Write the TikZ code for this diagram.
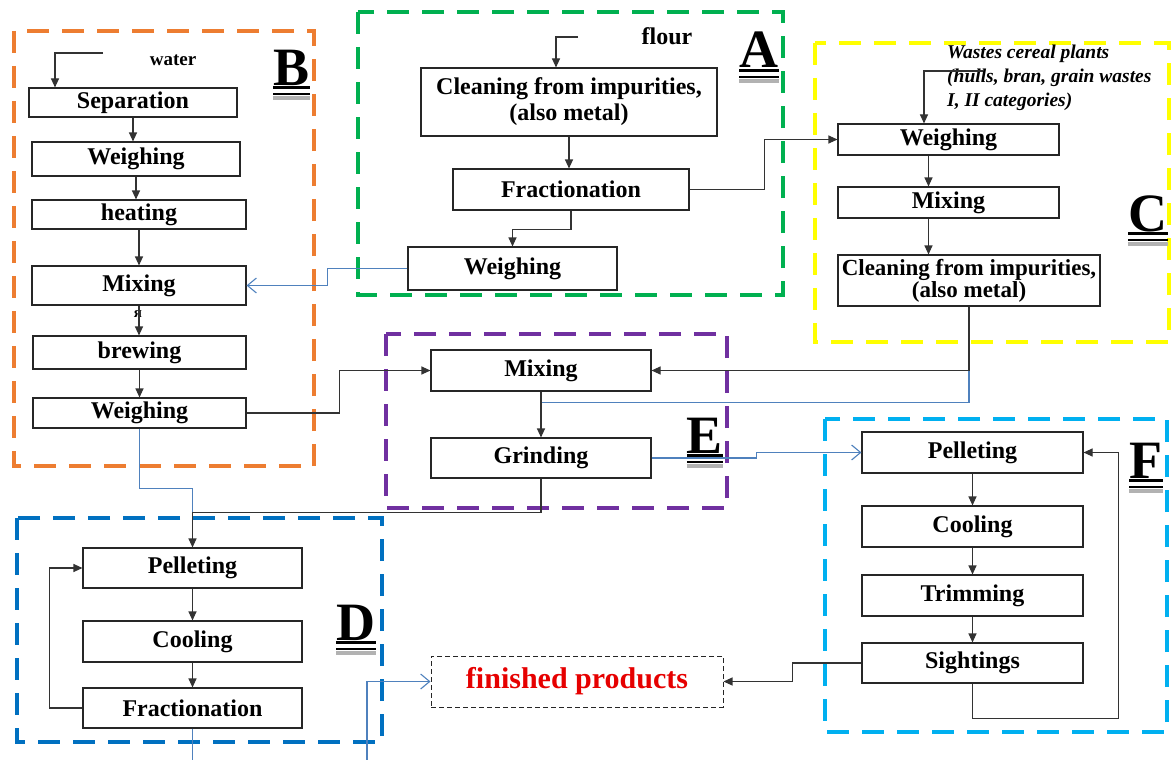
\documentclass[tikz,border=0pt]{standalone}
\usepackage{fontspec}
\setmainfont{Liberation Serif}
\usepackage{xcolor}
\definecolor{orangeB}{RGB}{237,125,49}
\definecolor{greenA}{RGB}{0,176,80}
\definecolor{yellowC}{RGB}{255,255,0}
\definecolor{blueD}{RGB}{0,112,192}
\definecolor{purpleE}{RGB}{112,48,160}
\definecolor{cyanF}{RGB}{0,176,240}
\definecolor{linkblue}{RGB}{79,129,189}
\definecolor{finred}{RGB}{230,0,0}
\usetikzlibrary{arrows.meta}

\begin{document}
\begin{tikzpicture}[x=1pt,y=-1pt,
  stepbox/.style={draw=black!85,line width=1.1pt,fill=white,inner sep=0pt,align=center,
    font=\fontsize{24}{26}\selectfont\bfseries},
  flow/.style={draw=black!80,line width=1.1pt,-{Triangle[length=9pt,width=8pt]}},
  link/.style={draw=linkblue,line width=1.1pt},
  linkarrow/.style={link,-{Straight Barb[length=9pt,width=15pt]}},
  region/.style={line width=4pt,dash pattern=on 22pt off 13pt},
  letter/.style={inner sep=0pt,anchor=base,font=\fontsize{54}{54}\selectfont\bfseries}]
  \useasboundingbox (0,0) rectangle (1171,760);

  \draw[region,orangeB] (14,31) rectangle (314,466);
  \draw[region,greenA] (358,12) rectangle (783,295);
  \draw[region,yellowC] (815,43) rectangle (1169,342);
  \draw[region,purpleE] (386,334) rectangle (727,508);
  \draw[region,blueD] (17,518) rectangle (382,742);
  \draw[region,cyanF] (825,419) rectangle (1167,732);

  % B
  \node[stepbox,minimum width=208pt,minimum height=29pt] (bsep) at (133,102.5) {Separation};
  \node[stepbox,minimum width=208pt,minimum height=34pt] (bweigh) at (136,159) {Weighing};
  \node[stepbox,minimum width=214pt,minimum height=29pt] (bheat) at (139,214.5) {heating};
  \node[stepbox,minimum width=214pt,minimum height=39pt] (bmix) at (139,285.5) {Mixing};
  \node[stepbox,minimum width=213pt,minimum height=33pt] (bbrew) at (139.5,352.5) {brewing};
  \node[stepbox,minimum width=213pt,minimum height=30pt] (bweigh2) at (139.5,413) {Weighing};
  \node[font=\fontsize{19}{19}\selectfont\bfseries,anchor=base] (water) at (173,66) {water};
  \node[font=\fontsize{15}{15}\selectfont\bfseries,inner sep=0pt] (stray) at (138,314) {я};
  \coordinate (waterin) at (103,53);
  \draw[flow] (waterin) -| ([xshift=-78pt]bsep.north);
  \foreach \a/\b in {bsep/bweigh,bweigh/bheat,bheat/bmix,bmix/bbrew,bbrew/bweigh2}
    \draw[flow] (\a.south) -- (\a.south |- \b.north);

  % A
  \node[stepbox,minimum width=296pt,minimum height=68pt] (aclean) at (569,102) {Cleaning from impurities,\\(also metal)};
  \node[stepbox,minimum width=236pt,minimum height=41pt] (afrac) at (571,189.5) {Fractionation};
  \node[stepbox,minimum width=209pt,minimum height=43pt] (aweigh) at (512.5,268.5) {Weighing};
  \node[font=\fontsize{24}{24}\selectfont\bfseries,anchor=base] (flour) at (667,45) {flour};
  \coordinate (flourin) at (578,37);
  \draw[flow] (flourin) -| ([xshift=-13pt]aclean.north);
  \draw[flow] (aclean.south) -- (aclean.south |- afrac.north);
  \draw[flow] (afrac.south) -- ++(0,19) -| (aweigh.north);
  \draw[linkarrow] (aweigh.west) -- ++(-80,0) |- (bmix.east);

  % C
  \node[stepbox,minimum width=221pt,minimum height=31pt] (cweigh) at (948.5,139.5) {Weighing};
  \node[stepbox,minimum width=221pt,minimum height=31pt] (cmix) at (948.5,202.5) {Mixing};
  \node[stepbox,minimum width=262pt,minimum height=51pt,font=\fontsize{23}{21}\selectfont\bfseries] (cclean) at (969,280.5) {Cleaning from impurities,\\(also metal)};
  \node[anchor=north west,inner sep=0pt,align=left,font=\fontsize{19.5}{24}\selectfont\bfseries\itshape] (wastes) at (947,45)
    {Wastes cereal plants\\(hulls, bran, grain wastes\\I, II categories)};
  \coordinate (wastesin) at (983,71);
  \draw[flow] (wastesin) -| ([xshift=-24.5pt]cweigh.north);
  \foreach \a/\b in {cweigh/cmix,cmix/cclean}
    \draw[flow] ([xshift=-20pt]\a.south) -- ([xshift=-20pt]\a.south |- \b.north);
  \draw[flow] (afrac.east) -- ++(75,0) |- (cweigh.west);

  % E
  \node[stepbox,minimum width=220pt,minimum height=41pt] (emix) at (541,370.5) {Mixing};
  \node[stepbox,minimum width=220pt,minimum height=40pt] (egrind) at (541,458) {Grinding};
  \draw[link] (cclean.south) |- ([yshift=-11pt]emix.south);
  \draw[flow] (cclean.south) |- (emix.east);
  \draw[flow] (bweigh2.east) -- ++(93,0) |- (emix.west);
  \draw[flow] (emix) -- (egrind);

  % F
  \node[stepbox,minimum width=221pt,minimum height=41pt] (fpel) at (972.5,452.5) {Pelleting};
  \node[stepbox,minimum width=221pt,minimum height=41pt] (fcool) at (972.5,526.5) {Cooling};
  \node[stepbox,minimum width=221pt,minimum height=41pt] (ftrim) at (972.5,595.5) {Trimming};
  \node[stepbox,minimum width=221pt,minimum height=40pt] (fsight) at (972.5,663) {Sightings};
  \foreach \a/\b in {fpel/fcool,fcool/ftrim,ftrim/fsight}
    \draw[flow] (\a) -- (\b);
  \draw[flow] (fsight.south) -- ++(0,35) -| ([xshift=35pt]fpel.east) -- (fpel.east);
  \draw[linkarrow] (egrind.east) -- ++(105,0) |- (fpel.west);

  % D
  \node[stepbox,minimum width=219pt,minimum height=40pt] (dpel) at (192.5,568) {Pelleting};
  \node[stepbox,minimum width=219pt,minimum height=41pt] (dcool) at (192.5,641.5) {Cooling};
  \node[stepbox,minimum width=219pt,minimum height=40pt] (dfrac) at (192.5,708) {Fractionation};
  \draw[link] (bweigh2.south) -- ++(0,60) -| (dpel.north);
  \draw[flow] (egrind.south) -- ++(0,34) -| (dpel.north);
  \foreach \a/\b in {dpel/dcool,dcool/dfrac}
    \draw[flow] (\a) -- (\b);
  \draw[flow] (dfrac.west) -- ++(-33,0) |- (dpel.west);
  \coordinate (dout) at (192.5,760);
  \draw[link] (dfrac.south) -- (dout);

  % finished products
  \node[draw=black!85,line width=1pt,dash pattern=on 5pt off 3pt,minimum width=292pt,minimum height=51pt,
    text=finred,font=\fontsize{30}{30}\selectfont\bfseries] (fin) at (577,681.5) {finished products};
  \draw[flow] (fsight.west) -- ++(-69,0) |- (fin.east);
  \coordinate (finin) at (367,760);
  \draw[linkarrow] (finin) |- (fin.west);

  % letters
  \node[letter] (la) at (759,68) {A};
  \node[letter] (lb) at (291.5,85) {B};
  \node[letter] (lc) at (1148,231) {C};
  \node[letter] (ld) at (356,640) {D};
  \node[letter] (le) at (705,453) {E};
  \node[letter] (lf) at (1146,478) {F};
  \foreach \n in {la,lb,lc,ld,le,lf}{
    \draw[black!30,line width=4pt] ([yshift=-13pt]\n.base west) -- ([yshift=-13pt]\n.base east);
    \draw[line width=2.5pt] ([yshift=-2.5pt]\n.base west) -- ([yshift=-2.5pt]\n.base east);
    \draw[line width=1.8pt] ([yshift=-9pt]\n.base west) -- ([yshift=-9pt]\n.base east);
  }
\end{tikzpicture}
\end{document}
